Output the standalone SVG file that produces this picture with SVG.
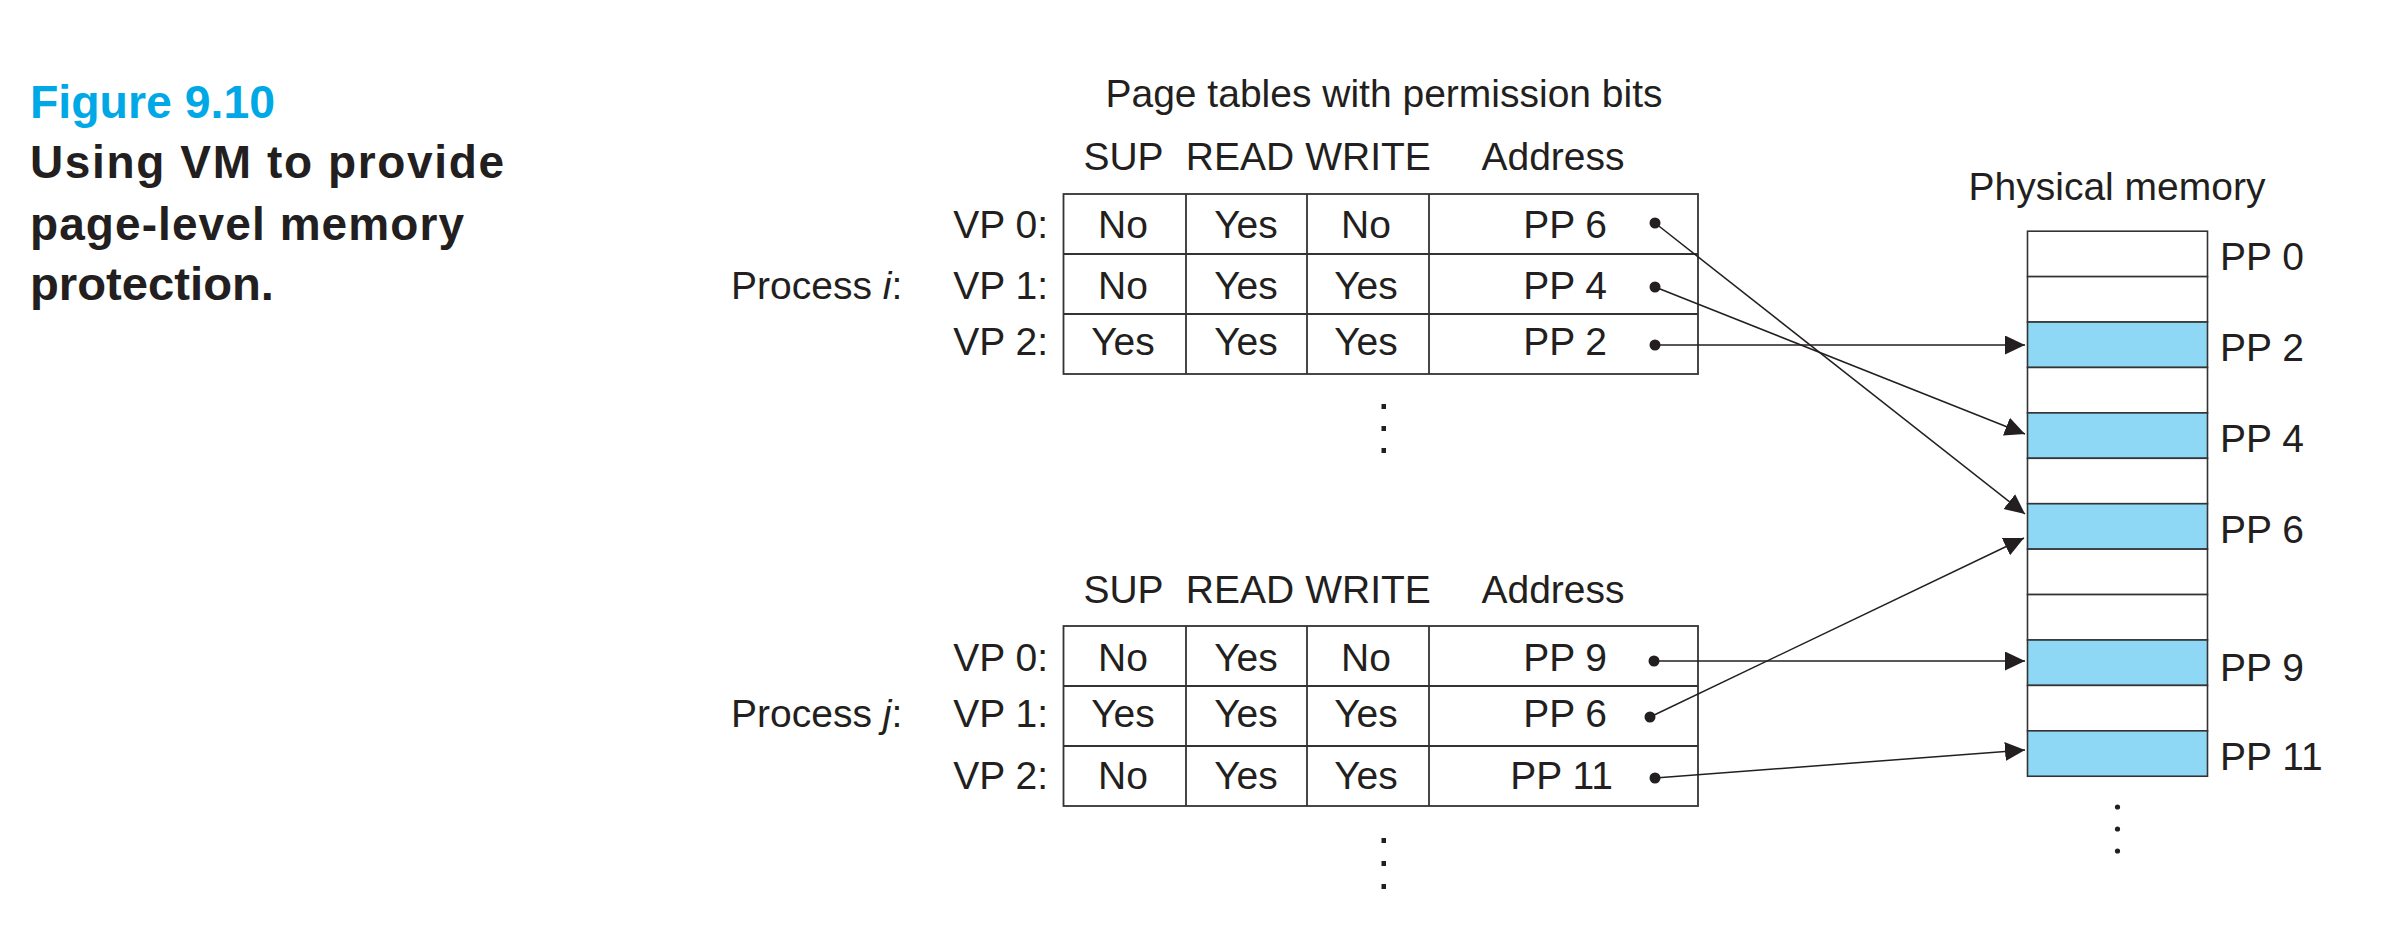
<svg xmlns="http://www.w3.org/2000/svg" width="2382" height="932" viewBox="0 0 2382 932">
<style>
.t{font-family:"Liberation Sans",Arial,sans-serif;font-size:39px;fill:#231f20}
.m{text-anchor:middle}
.e{text-anchor:end}
.cap{font-family:"Liberation Sans",Arial,sans-serif;font-weight:bold;font-size:46px;fill:#231f20}
.fig{fill:#00a9e6}
.box{fill:#fff;stroke:#333;stroke-width:1.8}
.grid{stroke:#333;stroke-width:1.8;fill:none}
.mem{fill:#fff;stroke:#333;stroke-width:1.6}
.blue{fill:#8fd8f5}
.conn{stroke:#231f20;stroke-width:1.5;fill:none;marker-end:url(#ah)}
.dot{fill:#231f20}
.ell{fill:#231f20}
</style>
<defs>
<marker id="ah" markerUnits="userSpaceOnUse" markerWidth="22" markerHeight="22" refX="20" refY="9.5" orient="auto">
<path d="M0,0 L20,9.5 L0,19 z" fill="#231f20"/>
</marker>
</defs>
<rect width="2382" height="932" fill="#fff"/>

<g id="caption">
<text class="cap fig" x="30" y="118" textLength="245" lengthAdjust="spacingAndGlyphs">Figure 9.10</text>
<text class="cap" x="30" y="178" textLength="474" lengthAdjust="spacing">Using VM to provide</text>
<text class="cap" x="30" y="240" textLength="434" lengthAdjust="spacing">page-level memory</text>
<text class="cap" x="30" y="300" textLength="244" lengthAdjust="spacingAndGlyphs">protection.</text>
</g>

<g id="title">
<text class="t m" x="1384" y="107">Page tables with permission bits</text>
</g>

<g id="table-i">
<text class="t m" x="1123.5" y="170">SUP</text>
<text class="t m" x="1240" y="170">READ</text>
<text class="t m" x="1368" y="170">WRITE</text>
<text class="t m" x="1553" y="170">Address</text>
<rect class="box" x="1063.5" y="194" width="634.5" height="180"/>
<path class="grid" d="M1186,194V374M1307,194V374M1429,194V374M1063.5,254H1698M1063.5,314H1698"/>
<text class="t" x="731" y="299">Process <tspan font-style="italic">i</tspan>:</text>
<text class="t e" x="1048" y="238">VP 0:</text>
<text class="t e" x="1048" y="299">VP 1:</text>
<text class="t e" x="1048" y="355">VP 2:</text>
<text class="t m" x="1123" y="238">No</text>
<text class="t m" x="1246" y="238">Yes</text>
<text class="t m" x="1366" y="238">No</text>
<text class="t e" x="1607" y="238">PP 6</text>
<text class="t m" x="1123" y="299">No</text>
<text class="t m" x="1246" y="299">Yes</text>
<text class="t m" x="1366" y="299">Yes</text>
<text class="t e" x="1607" y="299">PP 4</text>
<text class="t m" x="1123" y="355">Yes</text>
<text class="t m" x="1246" y="355">Yes</text>
<text class="t m" x="1366" y="355">Yes</text>
<text class="t e" x="1607" y="355">PP 2</text>
<circle class="dot" cx="1655" cy="223" r="5.5"/>
<circle class="dot" cx="1655" cy="287" r="5.5"/>
<circle class="dot" cx="1655" cy="345" r="5.5"/>
<rect class="ell" x="1381.5" y="404" width="4.5" height="5"/>
<rect class="ell" x="1381.5" y="426" width="4.5" height="5"/>
<rect class="ell" x="1381.5" y="448" width="4.5" height="5"/>
</g>

<g id="table-j">
<text class="t m" x="1123.5" y="603">SUP</text>
<text class="t m" x="1240" y="603">READ</text>
<text class="t m" x="1368" y="603">WRITE</text>
<text class="t m" x="1553" y="603">Address</text>
<rect class="box" x="1063.5" y="626" width="634.5" height="180"/>
<path class="grid" d="M1186,626V806M1307,626V806M1429,626V806M1063.5,686H1698M1063.5,746H1698"/>
<text class="t" x="731" y="727">Process <tspan font-style="italic">j</tspan>:</text>
<text class="t e" x="1048" y="671">VP 0:</text>
<text class="t e" x="1048" y="727">VP 1:</text>
<text class="t e" x="1048" y="789">VP 2:</text>
<text class="t m" x="1123" y="671">No</text>
<text class="t m" x="1246" y="671">Yes</text>
<text class="t m" x="1366" y="671">No</text>
<text class="t e" x="1607" y="671">PP 9</text>
<text class="t m" x="1123" y="727">Yes</text>
<text class="t m" x="1246" y="727">Yes</text>
<text class="t m" x="1366" y="727">Yes</text>
<text class="t e" x="1607" y="727">PP 6</text>
<text class="t m" x="1123" y="789">No</text>
<text class="t m" x="1246" y="789">Yes</text>
<text class="t m" x="1366" y="789">Yes</text>
<text class="t e" x="1613" y="789">PP 11</text>
<circle class="dot" cx="1654" cy="661" r="5.5"/>
<circle class="dot" cx="1650" cy="717" r="5.5"/>
<circle class="dot" cx="1655" cy="778" r="5.5"/>
<rect class="ell" x="1381.5" y="838" width="4.5" height="5"/>
<rect class="ell" x="1381.5" y="861" width="4.5" height="5"/>
<rect class="ell" x="1381.5" y="884" width="4.5" height="5"/>
</g>

<g id="physical-memory">
<text class="t m" x="2117" y="200">Physical memory</text>
<rect class="mem" x="2027.5" y="231.2" width="180" height="45.42"/>
<rect class="mem" x="2027.5" y="276.62" width="180" height="45.42"/>
<rect class="mem blue" x="2027.5" y="322.04" width="180" height="45.42"/>
<rect class="mem" x="2027.5" y="367.46" width="180" height="45.42"/>
<rect class="mem blue" x="2027.5" y="412.88" width="180" height="45.42"/>
<rect class="mem" x="2027.5" y="458.3" width="180" height="45.42"/>
<rect class="mem blue" x="2027.5" y="503.72" width="180" height="45.42"/>
<rect class="mem" x="2027.5" y="549.14" width="180" height="45.42"/>
<rect class="mem" x="2027.5" y="594.56" width="180" height="45.42"/>
<rect class="mem blue" x="2027.5" y="639.98" width="180" height="45.42"/>
<rect class="mem" x="2027.5" y="685.4" width="180" height="45.42"/>
<rect class="mem blue" x="2027.5" y="730.82" width="180" height="45.42"/>
<text class="t" x="2220" y="270">PP 0</text>
<text class="t" x="2220" y="361">PP 2</text>
<text class="t" x="2220" y="452">PP 4</text>
<text class="t" x="2220" y="543">PP 6</text>
<text class="t" x="2220" y="681">PP 9</text>
<text class="t" x="2220" y="770">PP 11</text>
<circle class="ell" cx="2117.5" cy="807" r="2.6"/>
<circle class="ell" cx="2117.5" cy="829" r="2.6"/>
<circle class="ell" cx="2117.5" cy="851" r="2.6"/>
</g>

<g id="connectors">
<line class="conn" x1="1655" y1="223" x2="2025" y2="514"/>
<line class="conn" x1="1655" y1="287" x2="2025" y2="434"/>
<line class="conn" x1="1655" y1="345" x2="2025" y2="345"/>
<line class="conn" x1="1654" y1="661" x2="2025" y2="661"/>
<line class="conn" x1="1650" y1="717" x2="2024" y2="538"/>
<line class="conn" x1="1655" y1="778" x2="2025" y2="750"/>
</g>
</svg>
